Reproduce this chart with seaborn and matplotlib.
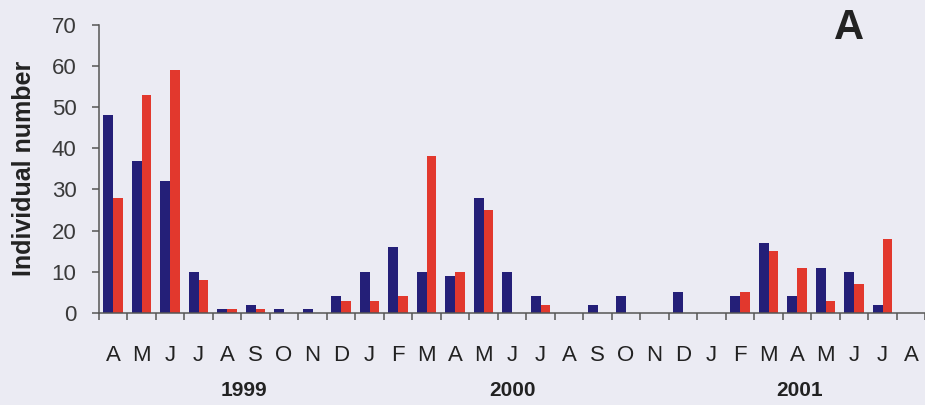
import matplotlib
matplotlib.use("Agg")
import matplotlib.pyplot as plt
import seaborn as sns
import pandas as pd
import numpy as np

months = ["A", "M", "J", "J", "A", "S", "O", "N", "D",
          "J", "F", "M", "A", "M", "J", "J", "A", "S", "O", "N", "D",
          "J", "F", "M", "A", "M", "J", "J", "A"]
blue_vals = [48, 37, 32, 10, 1, 2, 1, 1, 4,
             10, 16, 10, 9, 28, 10, 4, 0, 2, 4, 0, 5,
             0, 4, 17, 4, 11, 10, 2, 0]
red_vals = [28, 53, 59, 8, 1, 1, 0, 0, 3,
            3, 4, 38, 10, 25, 0, 2, 0, 0, 0, 0, 0,
            0, 5, 15, 11, 3, 7, 18, 0]
years = ["1999", "2000", "2001"]
year_pos = [4.6, 14.0, 24.1]
series = ["blue", "red"]

sns.set_style("ticks")
plt.rcParams["font.family"] = ["Liberation Sans", "DejaVu Sans"]

bg = "#ebebf3"
n = len(months)
df = pd.DataFrame({
    "idx": list(range(n)) * 2,
    "value": blue_vals + red_vals,
    "series": [series[0]] * n + [series[1]] * n,
})

fig = plt.figure(figsize=(9.25, 4.05), dpi=100, facecolor=bg)
ax = fig.add_axes([0.1068, 0.2272, 0.8935, 0.7123], facecolor=bg)

sns.barplot(data=df, x="idx", y="value", hue="series",
            palette={"blue": "#241f78", "red": "#e2382d"},
            width=0.68, dodge=True, ax=ax, legend=False,
            saturation=1, linewidth=0, errorbar=None)

ax.set_xlim(-0.5, n - 0.5)
ax.set_ylim(0, 70)
ax.set_yticks(range(0, 71, 10))
ax.tick_params(axis="y", labelsize=16, length=5, width=1.1, color="#555555",
               labelcolor="#3a3a3a", pad=11)

# x ticks at category boundaries, labels at centers
ax.set_xticks(np.arange(-0.5, n, 1.0))
ax.set_xticklabels([])
ax.tick_params(axis="x", length=5, width=1.1, color="#555555")
ax.set_xticks(range(n), minor=True)
ax.set_xticklabels(months, minor=True)
ax.tick_params(axis="x", which="minor", length=0, labelsize=16,
               labelcolor="#222222", pad=23)

for y, p in zip(years, year_pos):
    ax.text(p, -0.267, y, transform=ax.get_xaxis_transform(),
            ha="center", va="center", fontsize=15, fontweight="bold",
            color="#222222")

ax.set_xlabel("")
ax.set_ylabel("Individual number", fontsize=18, fontweight="bold",
              color="#222222")
ax.yaxis.set_label_coords(-0.076, 0.5)

for s in ["top", "right"]:
    ax.spines[s].set_visible(False)
for s in ["left", "bottom"]:
    ax.spines[s].set_color("#555555")
    ax.spines[s].set_linewidth(1.1)

fig.text(849 / 925, 1 - 28 / 405, "A", ha="center", va="center",
         fontsize=30, fontweight="bold", color="#222222")

fig.savefig("out.png", dpi=100, facecolor=bg)
